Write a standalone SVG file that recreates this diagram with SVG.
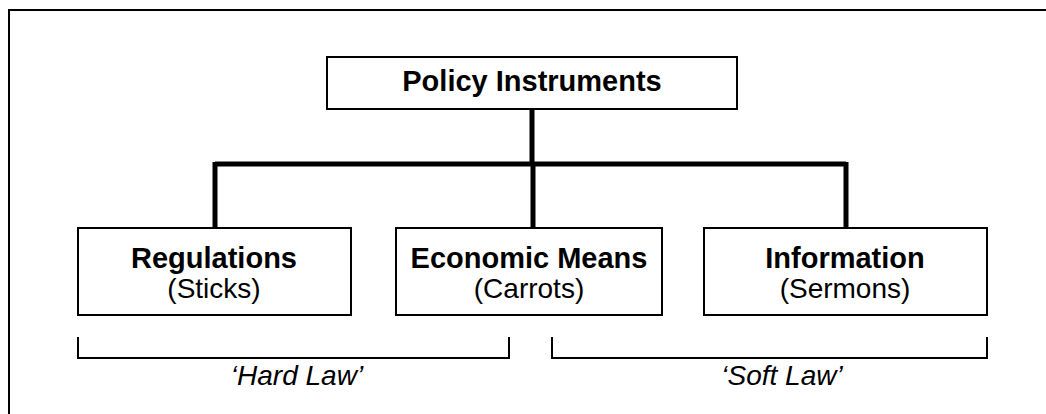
<svg xmlns="http://www.w3.org/2000/svg" width="1046" height="414" viewBox="0 0 1046 414">
<style>
.box{fill:#fff;stroke:#000;stroke-width:2}
.conn{fill:none;stroke:#000;stroke-width:5}
.br{fill:none;stroke:#000;stroke-width:2}
.t{font-family:"Liberation Sans",Arial,sans-serif;text-anchor:middle;fill:#000}
.b{font-weight:bold;font-size:29px}
.r{font-size:28px}
.i{font-style:italic;font-size:28px}
</style>
<rect x="0" y="0" width="1046" height="414" fill="#fff"/>
<rect x="9" y="10" width="1100" height="500" fill="none" stroke="#000" stroke-width="2"/>
<g id="connectors">
<path class="conn" d="M532 109 V164 M215 164 H846 M215 162 V228 M533 164 V228 M846 162 V228"/>
</g>
<g id="policy">
<rect class="box" x="327" y="57" width="410" height="52"/>
<text class="t b" x="532" y="91">Policy Instruments</text>
</g>
<g id="regulations">
<rect class="box" x="78" y="228" width="273" height="87"/>
<text class="t b" x="214" y="268">Regulations</text>
<text class="t r" x="214" y="298">(Sticks)</text>
</g>
<g id="economic">
<rect class="box" x="396" y="228" width="266" height="87"/>
<text class="t b" x="529" y="268">Economic Means</text>
<text class="t r" x="529" y="298">(Carrots)</text>
</g>
<g id="information">
<rect class="box" x="704" y="228" width="283" height="87"/>
<text class="t b" x="845" y="268">Information</text>
<text class="t r" x="845" y="298">(Sermons)</text>
</g>
<g id="hardlaw">
<path class="br" d="M78 337 V358 H509 V337"/>
<text class="t i" x="297" y="385">‘Hard Law’</text>
</g>
<g id="softlaw">
<path class="br" d="M552 337 V358 H987 V337"/>
<text class="t i" x="782" y="385">‘Soft Law’</text>
</g>
</svg>
